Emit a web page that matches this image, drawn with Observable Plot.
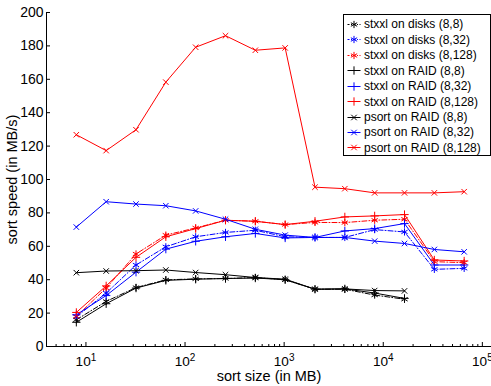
<!DOCTYPE html>
<html>
<head>
<meta charset="utf-8">
<script src="https://cdn.jsdelivr.net/npm/d3@7"></script>
<script src="https://cdn.jsdelivr.net/npm/@observablehq/plot@0.6"></script>
<style>
  body { margin: 0; background: #fff; }
  #chart { position: relative; width: 491px; height: 386px; overflow: hidden;
           font-family: "Liberation Sans", Arial, Helvetica, sans-serif; }
  #legend { position: absolute; left: 343px; top: 14px; width: 148px; height: 142px;
            border: 1px solid #000; background: #fff; box-sizing: border-box;
            padding-top: 1.6px; font-size: 12px; color: #000; }
  .row { height: 15.46px; display: flex; align-items: center; white-space: nowrap; }
  .row svg { flex: none; margin-left: 1px; margin-right: 2px; }
</style>
</head>
<body>
<div id="chart"><div id="legend"></div></div>
<script>
// sort sizes in MB
const sizes = [8, 16, 32, 64, 128, 256, 512, 1024, 2048, 4096, 8192, 16384, 32768, 65536];

// sort speed in MB/s for each configuration
const stxxlDisks8   = [16, 27, 35.3, 39.9, 40.5, 40.7, 41.3, 40, 34.3, 34.3, 30.8, 28.3];
const stxxlDisks32  = [17.8, 32, 48.8, 59.7, 65.7, 68.3, 69.6, 65.7, 65.3, 65.3, 70, 68.6, 46.2, 46.8];
const stxxlDisks128 = [18, 35, 55.4, 66.7, 71, 75.6, 75, 73, 74.3, 74.2, 75.6, 76.2, 50.8, 50.2];
const stxxlRaid8    = [14.5, 25.6, 35, 39.6, 40.3, 40.7, 41, 40, 34.3, 34.5, 32, 28.8];
const stxxlRaid32   = [19, 30.5, 44.5, 58.3, 63, 65.7, 67.7, 65, 65.3, 69.2, 70.6, 73.6, 48.8, 48.8];
const stxxlRaid128  = [20.4, 36.3, 53.4, 65.7, 70.6, 75.6, 75, 73, 75, 77.6, 78.2, 79, 51.8, 51.2];
const psortRaid8    = [44.2, 45.2, 45.4, 45.8, 44.3, 43, 41.3, 40.3, 34.3, 34.5, 33.5, 33.3];
const psortRaid32   = [71.5, 86.7, 85.3, 84.3, 81.2, 76.2, 70.2, 66.7, 65.3, 65.3, 63.1, 61.7, 58.1, 56.7];
const psortRaid128  = [126.8, 117.3, 129.8, 158.3, 179.2, 186.1, 177.4, 178.8, 95.4, 94.5, 92, 92, 92, 92.7];

const seriesNames = [
  "stxxl on disks (8,8)", "stxxl on disks (8,32)", "stxxl on disks (8,128)",
  "stxxl on RAID (8,8)", "stxxl on RAID (8,32)", "stxxl on RAID (8,128)",
  "psort on RAID (8,8)", "psort on RAID (8,32)", "psort on RAID (8,128)"
];
const seriesValues = [
  stxxlDisks8, stxxlDisks32, stxxlDisks128,
  stxxlRaid8, stxxlRaid32, stxxlRaid128,
  psortRaid8, psortRaid32, psortRaid128
];

// axis ticks
const xDomain = [4, 131072];
const xMajorTicks = [10, 100, 1000, 10000, 100000];
const yTicks = [0, 20, 40, 60, 80, 100, 120, 140, 160, 180, 200];
const xLabel = "sort size (in MB)";
const yLabel = "sort speed (in MB/s)";

// line style per series: colour cycles by block count, marker/dash by setup
const colors = ["#000000", "#0000ff", "#ff0000"];
const styleFor = i => {
  const setup = Math.floor(i / 3);
  return {
    color: colors[i % 3],
    symbol: ["asterisk", "plus", "times"][setup],
    r: [3.4, 2.8, 2.6][setup],
    dash: setup === 0 ? "5,2,1,2" : null
  };
};

const series = seriesNames.map((name, i) => ({
  name,
  ...styleFor(i),
  rows: seriesValues[i].map((v, j) => ({size: sizes[j], speed: v}))
}));

const xMinorTicks = d3.scaleLog().domain(xDomain).ticks()
  .filter(t => !xMajorTicks.includes(t));

const marks = [
  Plot.ruleY([0], {stroke: "#000", strokeWidth: 1}),
  Plot.ruleX([xDomain[0]], {stroke: "#000", strokeWidth: 1}),
  Plot.axisY(yTicks, {tickSize: -4, tickPadding: 7, label: null, stroke: "#000"}),
  Plot.axisX(xMinorTicks, {tickSize: -2, tickFormat: () => "", label: null, stroke: "#000"}),
  Plot.axisX(xMajorTicks, {tickSize: -4, tickPadding: 13.5, label: null, stroke: "#000",
    fontSize: 13.6, tickFormat: d => "10^" + Math.round(Math.log10(d))}),
  Plot.text([xLabel], {frameAnchor: "bottom", lineAnchor: "middle", dy: 30,
    fontSize: 14.5, fill: "#000"}),
  Plot.text([yLabel], {frameAnchor: "left", textAnchor: "middle", lineAnchor: "middle",
    dx: -34, rotate: -90, fontSize: 14.5, fill: "#000"})
];

for (const s of series) {
  marks.push(Plot.line(s.rows, {x: "size", y: "speed", stroke: s.color, strokeWidth: 1,
    strokeDasharray: s.dash}));
  marks.push(Plot.dot(s.rows, {x: "size", y: "speed", symbol: s.symbol, r: s.r,
    stroke: s.color, fill: "none", strokeWidth: 1}));
}

const chart = Plot.plot({
  width: 491,
  height: 386,
  marginLeft: 46,
  marginRight: 0,
  marginTop: 12,
  marginBottom: 40,
  x: {type: "log", domain: xDomain, range: [46, 493.5]},
  y: {domain: [0, 200], range: [346, 12]},
  style: {
    fontFamily: '"Liberation Sans", Arial, Helvetica, sans-serif',
    fontSize: "14px",
    color: "#000",
    background: "#fff",
    overflow: "visible"
  },
  marks
});

// write powers of ten with a raised exponent
const ns = "http://www.w3.org/2000/svg";
chart.querySelectorAll('g[aria-label="x-axis tick label"] text').forEach(t => {
  const parts = t.textContent.split("^");
  if (parts.length !== 2) return;
  t.textContent = "";
  const base = document.createElementNS(ns, "tspan");
  base.textContent = parts[0];
  const exp = document.createElementNS(ns, "tspan");
  exp.textContent = parts[1];
  exp.setAttribute("dy", "-0.45em");
  exp.setAttribute("font-size", "10px");
  t.append(base, exp);
});

const root = document.getElementById("chart");
root.insertBefore(chart, root.firstChild);

// legend inside the plot area
const legend = document.getElementById("legend");
for (const s of series) {
  const row = document.createElement("div");
  row.className = "row";
  const sw = d3.create("svg").attr("width", 17).attr("height", 15);
  sw.append("line").attr("x1", 2.5).attr("x2", 15.5).attr("y1", 7.5).attr("y2", 7.5)
    .attr("stroke", s.color).attr("stroke-width", 1)
    .attr("stroke-dasharray", s.dash ? "2,1.5,1,1.5" : null);
  const symType = {asterisk: d3.symbolAsterisk, plus: d3.symbolPlus, times: d3.symbolTimes}[s.symbol];
  sw.append("path").attr("transform", "translate(9,7.5)")
    .attr("d", d3.symbol(symType, Math.PI * s.r * s.r)())
    .attr("fill", "none").attr("stroke", s.color).attr("stroke-width", 1);
  row.appendChild(sw.node());
  const label = document.createElement("span");
  label.textContent = s.name;
  row.appendChild(label);
  legend.appendChild(row);
}
</script>
</body>
</html>
